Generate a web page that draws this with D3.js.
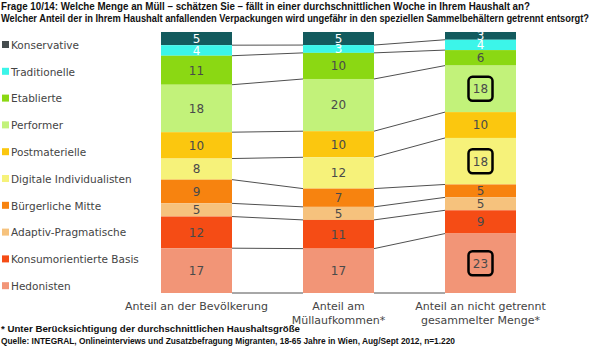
<!DOCTYPE html>
<html>
<head>
<meta charset="utf-8">
<script src="https://cdn.jsdelivr.net/npm/d3@7"></script>
<style>
  body { margin: 0; background: #fff; }
  svg { display: block; }
</style>
</head>
<body>
<div id="chart"></div>
<script>
// Kategorien (Sinus-Milieus), von oben nach unten
const milieus = ["Konservative", "Traditionelle", "Etablierte", "Performer", "Postmaterielle",
    "Digitale Individualisten", "Bürgerliche Mitte", "Adaptiv-Pragmatische", "Konsumorientierte Basis", "Hedonisten"];
const colors = ["#135b5e", "#3cf5e9", "#8bd813", "#c2f27a", "#fbc70f",
    "#f6f27a", "#f7830f", "#f6c27d", "#f54c15", "#f29577"];
const legendColors = ["#444c4d", "#3cf5e9", "#8bd813", "#c2f27a", "#fbc70f",
    "#f6f27a", "#f7830f", "#f6c27d", "#f54c15", "#f29577"];

const columns = ["Anteil an der Bevölkerung", "Anteil am Müllaufkommen*", "Anteil an nicht getrennt gesammelter Menge*"];
const columnLabels = [["Anteil an der Bevölkerung"], ["Anteil am", "Müllaufkommen*"], ["Anteil an nicht getrennt", "gesammelter Menge*"]];

const bevoelkerung = [5, 4, 11, 18, 10, 8, 9, 5, 12, 17];
const muell = [5, 3, 10, 20, 10, 12, 7, 5, 11, 17];
const nichtGetrennt = [3, 4, 6, 18, 10, 18, 5, 5, 9, 23];
const series = [bevoelkerung, muell, nichtGetrennt];

// hervorgehobene Werte (umrandet) in der dritten Säule
const highlighted = ["Performer", "Digitale Individualisten", "Hedonisten"];

const titleLines = [
    "Frage 10/14: Welche Menge an Müll – schätzen Sie – fällt in einer durchschnittlichen Woche in Ihrem Haushalt an?",
    "Welcher Anteil der in Ihrem Haushalt anfallenden Verpackungen wird ungefähr in den speziellen Sammelbehältern getrennt entsorgt?"
];
const footLines = [
    "* Unter Berücksichtigung der durchschnittlichen Haushaltsgröße",
    "Quelle: INTEGRAL, Onlineinterviews und Zusatzbefragung Migranten,  18-65 Jahre in Wien, Aug/Sept 2012, n=1.220"
];

const width = 595, height = 348;
const plotTop = 32, plotBottom = 293;

const svg = d3.select("#chart").append("svg")
    .attr("width", width)
    .attr("height", height);

// Titel
svg.selectAll(".title")
    .data(titleLines)
    .enter().append("text")
    .attr("class", "title")
    .attr("x", 1)
    .attr("y", (d, i) => 10 + i * 12)
    .attr("textLength", (d, i) => i === 0 ? 529 : 588)
    .attr("lengthAdjust", "spacingAndGlyphs")
    .style("font-family", "Liberation Sans Narrow, Liberation Sans, Arial")
    .style("font-size", "10.5px")
    .style("font-weight", "bold")
    .style("fill", "#111")
    .text(d => d);

// x-Skala für die drei Säulen
const x = d3.scaleBand()
    .domain(columns)
    .range([161, 516])
    .paddingInner(0.5)
    .paddingOuter(0);

// je Säule eigene y-Skala (100%-gestapelt)
const yScales = series.map(s => d3.scaleLinear()
    .domain([0, d3.sum(s)])
    .range([plotTop, plotBottom]));

const stacked = series.map(s => {
    let acc = 0;
    return s.map((v, i) => {
        const d = { key: milieus[i], value: v, y0: acc, y1: acc + v, idx: i };
        acc += v;
        return d;
    });
});

// Verbindungslinien zwischen den Säulen
const lines = svg.append("g");
for (let c = 0; c < columns.length - 1; c++) {
    const a = stacked[c], b = stacked[c + 1];
    lines.selectAll(null)
        .data(d3.range(milieus.length))
        .enter().append("line")
        .attr("x1", x(columns[c]) + x.bandwidth())
        .attr("x2", x(columns[c + 1]))
        .attr("y1", i => yScales[c](a[i].y1))
        .attr("y2", i => yScales[c + 1](b[i].y1))
        .attr("stroke", "#505050")
        .attr("stroke-width", 1);
}

// Säulen
columns.forEach((col, c) => {
    const g = svg.append("g");
    const y = yScales[c];
    g.selectAll("rect")
        .data(stacked[c])
        .enter().append("rect")
        .attr("x", x(col))
        .attr("width", x.bandwidth())
        .attr("y", d => y(d.y0))
        .attr("height", d => y(d.y1) - y(d.y0))
        .attr("fill", d => colors[d.idx]);

    g.selectAll("text")
        .data(stacked[c])
        .enter().append("text")
        .attr("x", x(col) + x.bandwidth() / 2)
        .attr("y", d => (y(d.y0) + y(d.y1)) / 2)
        .attr("dy", "0.36em")
        .attr("text-anchor", "middle")
        .style("font-family", "DejaVu Sans, Verdana, sans-serif")
        .style("font-size", "12px")
        .style("fill", d => d.idx < 2 ? "#ffffff" : "#4a4a4a")
        .text(d => d.value);

    if (c === columns.length - 1) {
        g.selectAll(".box")
            .data(stacked[c].filter(d => highlighted.includes(d.key)))
            .enter().append("rect")
            .attr("class", "box")
            .attr("x", x(col) + x.bandwidth() / 2 - 12)
            .attr("y", d => (y(d.y0) + y(d.y1)) / 2 - 12)
            .attr("width", 24)
            .attr("height", 24)
            .attr("rx", 4)
            .attr("fill", "none")
            .attr("stroke", "#000")
            .attr("stroke-width", 2.5);
    }
});

// Legende
const legend = svg.append("g")
    .selectAll("g")
    .data(milieus)
    .enter().append("g")
    .attr("transform", (d, i) => `translate(2, ${45 + i * 26.8})`);

legend.append("rect")
    .attr("x", 0)
    .attr("y", -4)
    .attr("width", 7)
    .attr("height", 7)
    .attr("fill", (d, i) => legendColors[i]);

legend.append("text")
    .attr("x", 9)
    .attr("y", 0)
    .attr("dy", "0.36em")
    .style("font-family", "DejaVu Sans, Verdana, sans-serif")
    .style("font-size", "10.5px")
    .style("fill", "#444")
    .text(d => d);

// Säulenbeschriftungen
columns.forEach((col, c) => {
    svg.append("text")
        .attr("x", x(col) + x.bandwidth() / 2)
        .attr("y", 310)
        .attr("text-anchor", "middle")
        .style("font-family", "DejaVu Sans, Verdana, sans-serif")
        .style("font-size", "11px")
        .style("fill", "#444")
        .selectAll("tspan")
        .data(columnLabels[c])
        .enter().append("tspan")
        .attr("x", x(col) + x.bandwidth() / 2)
        .attr("dy", (d, i) => i === 0 ? 0 : 14)
        .text(d => d);
});

// Fußnoten
svg.selectAll(".foot")
    .data(footLines)
    .enter().append("text")
    .attr("class", "foot")
    .attr("x", 1)
    .attr("y", (d, i) => 332 + i * 12)
    .attr("textLength", (d, i) => i === 0 ? 299 : 454)
    .attr("lengthAdjust", "spacingAndGlyphs")
    .style("font-family", "Liberation Sans Narrow, Liberation Sans, Arial")
    .style("font-size", "8.5px")
    .style("font-weight", "bold")
    .style("fill", "#111")
    .text(d => d);
</script>
</body>
</html>
